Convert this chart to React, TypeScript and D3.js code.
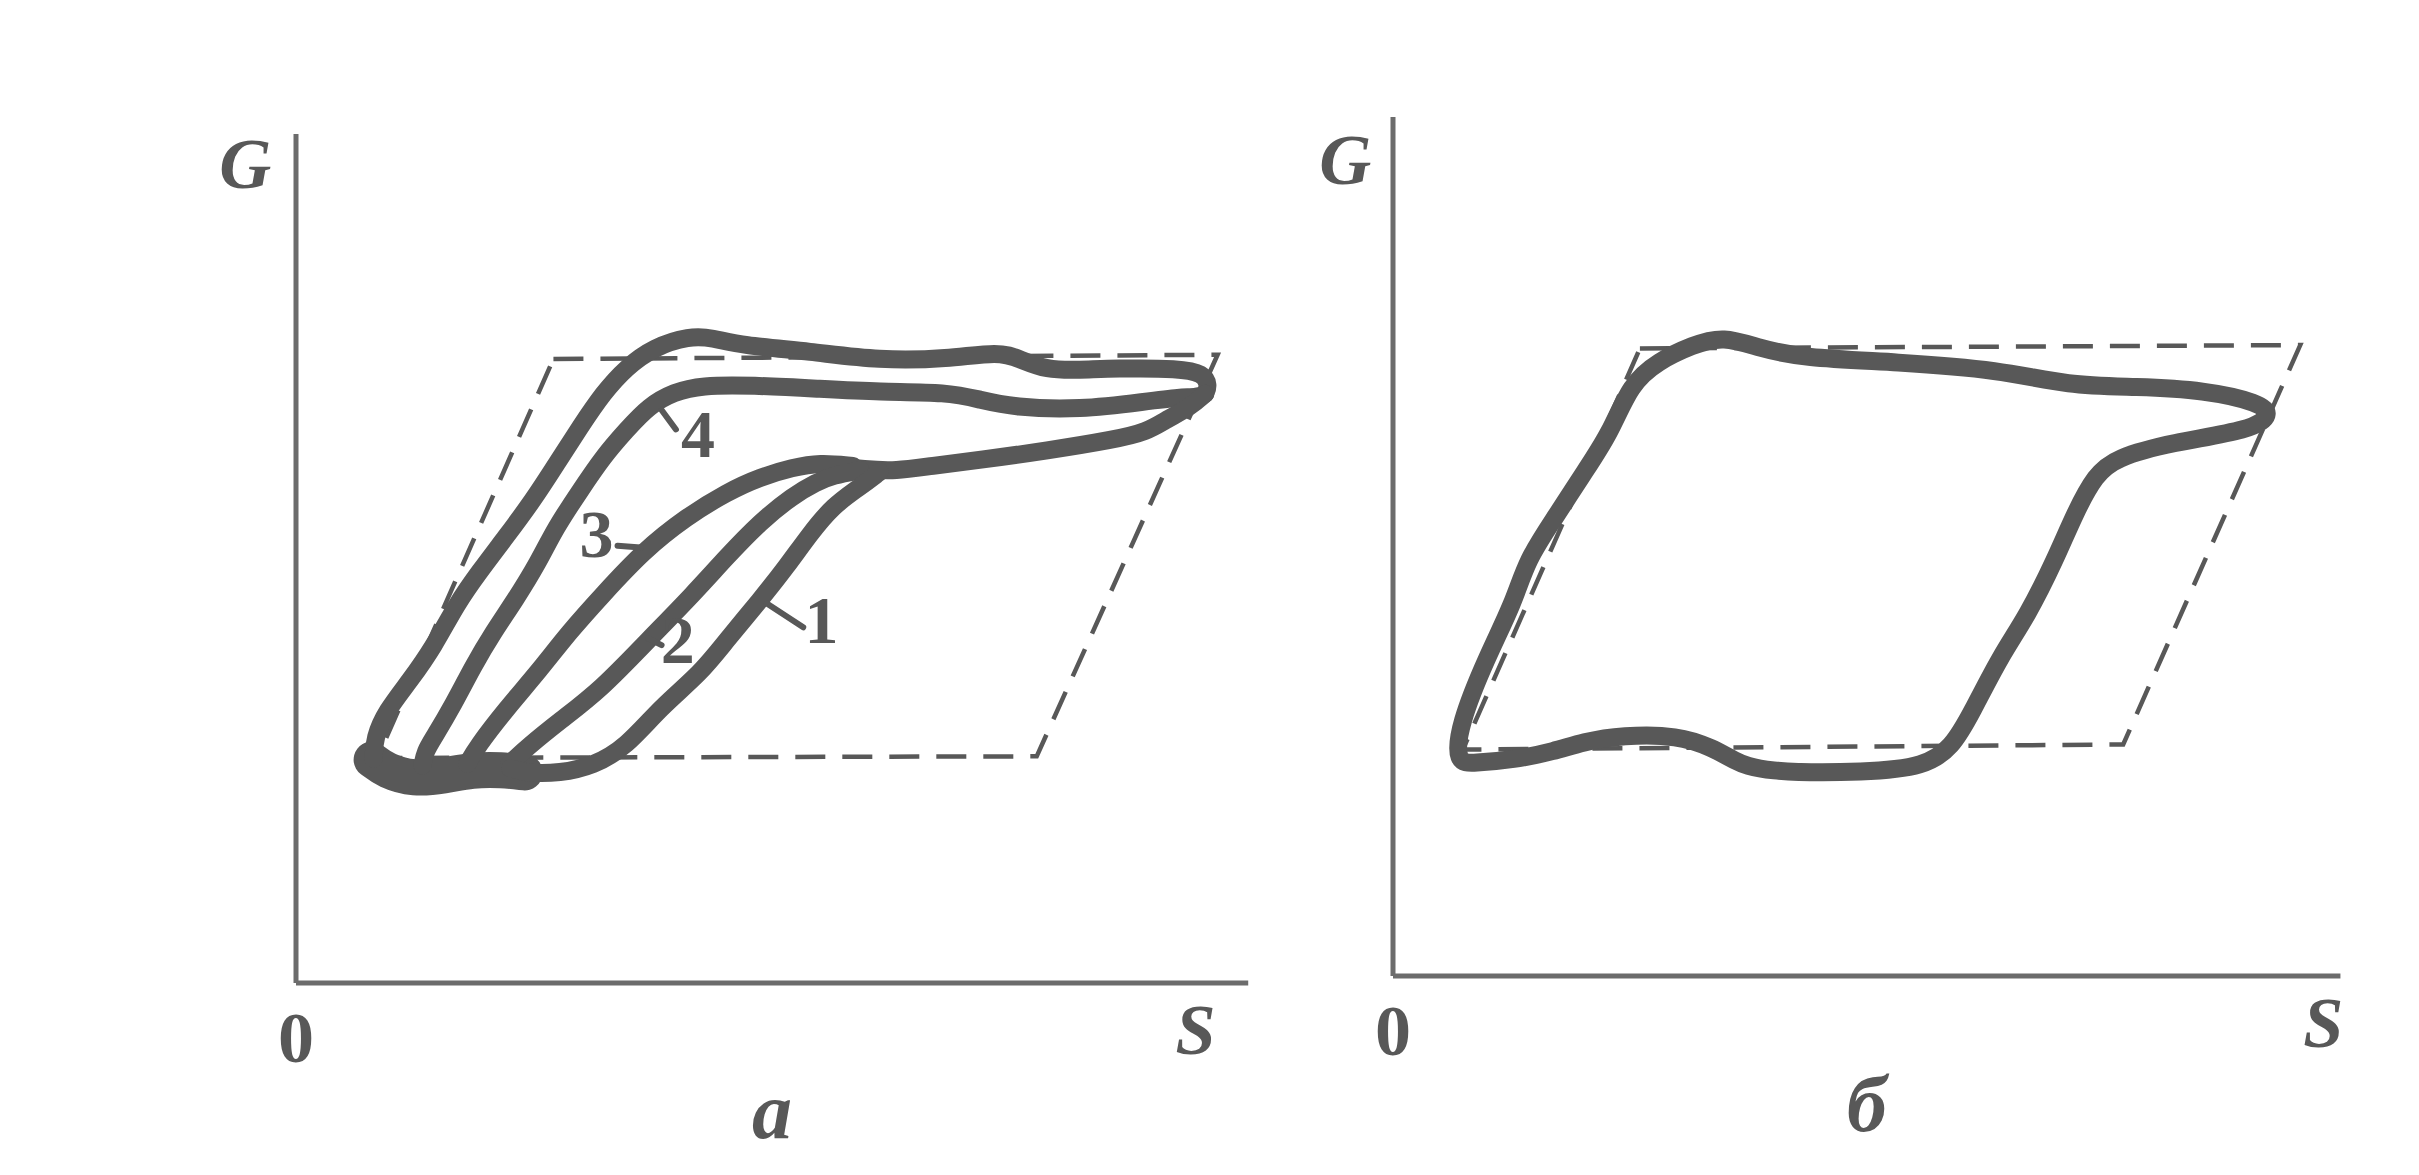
import React from "react";
import * as d3 from "d3";

type P = [number, number];

// ---------- Panel a (S, G in relative units 0..100) ----------
const aOuter: P[] = [
  [8.1, 26.4], [8.2, 28.9], [9.4, 32.0], [11.9, 35.6], [14.4, 39.6], [16.8, 44.7],
  [19.2, 48.5], [21.9, 52.5], [24.8, 56.9], [27.3, 61.3], [29.7, 65.5], [32.1, 69.5],
  [34.5, 72.5], [37.4, 74.9], [41.1, 76.2], [43.5, 76.0], [46.5, 75.1], [53.7, 74.4],
  [61.0, 73.3], [68.1, 73.5], [73.5, 74.4], [75.6, 73.5], [78.4, 72.2], [81.9, 72.2],
  [85.5, 72.4], [92.4, 72.4], [94.8, 71.8], [95.4, 70.4], [95.0, 69.4],
];
const aCurve4: P[] = [
  [95.0, 69.4], [94.2, 69.0], [92.4, 69.0], [88.9, 68.5], [81.9, 67.5], [75.0, 67.8],
  [71.5, 68.7], [68.1, 69.6], [61.0, 69.6], [54.5, 70.0], [47.7, 70.4], [42.3, 70.4],
  [39.5, 69.6], [36.9, 68.0], [34.5, 65.1], [32.1, 62.0], [29.7, 58.0], [27.1, 53.6],
  [25.3, 49.5], [22.9, 45.1], [20.6, 41.3], [18.5, 37.3], [16.5, 32.9], [14.4, 28.9],
  [13.5, 27.3], [13.2, 25.6],
];
const aLowerCommon: P[] = [
  [95.0, 69.4], [93.4, 67.8], [91.0, 66.4], [88.9, 64.9], [85.5, 64.0], [78.5, 62.7],
  [71.5, 61.6], [66.3, 60.9], [62.7, 60.3], [59.4, 60.5], [56.0, 61.0],
];
const aCurve3: P[] = [
  [58.2, 60.9], [54.7, 61.3], [51.9, 60.7], [48.5, 59.6], [45.0, 57.8], [40.8, 54.9],
  [36.3, 50.9], [32.1, 45.8], [28.5, 41.3], [25.5, 36.9], [21.9, 32.2], [18.9, 27.8],
  [17.9, 25.8],
];
const aCurve2: P[] = [
  [59.0, 60.4], [56.1, 59.8], [54.4, 59.0], [51.9, 57.4], [48.5, 54.3], [45.0, 50.2],
  [41.5, 45.8], [36.8, 40.4], [31.8, 34.5], [27.6, 30.9], [24.2, 27.8], [22.3, 25.8],
];
const aCurve1: P[] = [
  [61.0, 60.2], [58.9, 58.4], [56.1, 56.2], [53.7, 52.9], [51.3, 49.1], [48.5, 45.1],
  [45.0, 40.4], [42.3, 36.5], [38.1, 32.5], [34.5, 27.8], [31.1, 25.6], [27.6, 24.7],
  [24.0, 24.7], [22.4, 25.3],
];
const aBottom: P[] = [
  [7.9, 26.3], [9.4, 25.0], [12.3, 24.0], [15.5, 24.4], [18.4, 25.1], [21.5, 25.1], [23.9, 24.8],
];
const aDashed: P[] = [[26.9, 73.5], [96.3, 74.0], [77.4, 26.7], [8.5, 26.5]];
const aLabels = ["1", "2", "3", "4"];
const aLabelPos: P[] = [[54.9, 42.7], [39.9, 40.4], [31.4, 52.9], [42.0, 64.7]];
const aLeaders: [P, P][] = [
  [[49.2, 44.7], [53.0, 41.9]],
  [[36.8, 40.6], [38.2, 39.8]],
  [[33.6, 51.5], [36.0, 51.3]],
  [[38.2, 67.5], [39.7, 65.2]],
];

// ---------- Panel б ----------
const bLoop: P[] = [
  [6.6, 25.1], [6.9, 29.6], [9.8, 37.6], [12.6, 44.0], [14.0, 49.1], [16.9, 54.0],
  [19.8, 59.1], [22.7, 64.0], [24.8, 69.8], [27.7, 72.5], [31.3, 74.4], [34.5, 75.5],
  [38.4, 74.0], [42.7, 72.9], [52.7, 72.4], [63.4, 71.5], [70.6, 69.6], [77.7, 69.5],
  [84.8, 69.1], [90.6, 67.6], [91.8, 66.2], [89.8, 64.4], [81.3, 62.9], [75.5, 61.1],
  [73.4, 59.1], [71.3, 54.7], [69.2, 49.1], [66.3, 42.5], [63.4, 37.6], [60.5, 31.1],
  [58.4, 26.9], [55.5, 24.7], [49.8, 24.0], [38.4, 24.0], [35.5, 25.5], [33.4, 26.9],
  [29.8, 28.4], [24.0, 28.4], [19.8, 27.6], [16.9, 26.5], [12.6, 25.5], [8.4, 25.1],
];
const bDashed: P[] = [[25.8, 74.0], [94.8, 74.4], [76.3, 27.3], [7.3, 26.7]];

const INK = "#585858";
const SERIF = "'Liberation Serif', 'DejaVu Serif', serif";

function Panel(props: {
  x: d3.ScaleLinear<number, number>;
  y: d3.ScaleLinear<number, number>;
  axisTop: number;
  axisRight: number;
  dashed: P[];
  curves: P[][];
  closed?: P[];
  blob?: P[];
  title: string;
  gPos: P;
  sPos: P;
  children?: React.ReactNode;
}) {
  const { x, y } = props;
  const line = d3.line<P>().x((d) => x(d[0])).y((d) => y(d[1])).curve(d3.curveBasis);
  const closedLine = d3.line<P>().x((d) => x(d[0])).y((d) => y(d[1])).curve(d3.curveBasisClosed);
  const poly = d3.line<P>().x((d) => x(d[0])).y((d) => y(d[1]));
  return (
    <g>
      <line x1={x(0)} y1={y(0)} x2={x(0)} y2={y(props.axisTop)} stroke="#6c6c6c" strokeWidth={5} />
      <line x1={x(0)} y1={y(0)} x2={x(props.axisRight)} y2={y(0)} stroke="#6c6c6c" strokeWidth={5} />
      <path d={poly([...props.dashed, props.dashed[0]]) || ""} fill="none" stroke={INK}
        strokeWidth={4.5} strokeDasharray="30 17" />
      {props.blob && (
        <path d={line(props.blob) || ""} fill="none" stroke={INK} strokeWidth={36}
          strokeLinecap="round" strokeLinejoin="round" />
      )}
      {props.curves.map((c, i) => (
        <path key={i} d={line(c) || ""} fill="none" stroke={INK} strokeWidth={18}
          strokeLinecap="round" strokeLinejoin="round" />
      ))}
      {props.closed && (
        <path d={closedLine(props.closed) || ""} fill="none" stroke={INK} strokeWidth={18}
          strokeLinejoin="round" />
      )}
      {props.children}
      <text x={x(props.gPos[0])} y={y(props.gPos[1])} fontFamily={SERIF} fontSize={72}
        fontStyle="italic" fontWeight="bold" fill={INK} textAnchor="middle" dominantBaseline="central">G</text>
      <text x={x(0)} y={y(0) + 55} fontFamily={SERIF} fontSize={72} fontWeight="bold"
        fill={INK} textAnchor="middle" dominantBaseline="central">0</text>
      <text x={x(props.sPos[0])} y={y(props.sPos[1])} fontFamily={SERIF} fontSize={72}
        fontStyle="italic" fontWeight="bold" fill={INK} textAnchor="middle" dominantBaseline="central">S</text>
      <text x={(x(0) + x(props.axisRight)) / 2} y={y(0) + 128} fontFamily={SERIF} fontSize={80}
        fontStyle="italic" fontWeight="bold" fill={INK} textAnchor="middle" dominantBaseline="central">{props.title}</text>
    </g>
  );
}

export default function App() {
  const xA = d3.scaleLinear().domain([0, 100]).range([296, 1253]);
  const yA = d3.scaleLinear().domain([0, 100]).range([983, 134]);
  const xB = d3.scaleLinear().domain([0, 100]).range([1393, 2350]);
  const yB = d3.scaleLinear().domain([0, 100]).range([976, 128]);

  return (
    <svg width={2419} height={1175} viewBox="0 0 2419 1175"
      style={{ position: "absolute", left: 0, top: 0, background: "#fff" }}>
      <rect width={2419} height={1175} fill="#fff" />
      <Panel x={xA} y={yA} axisTop={100} axisRight={99.5} dashed={aDashed}
        curves={[aOuter, aCurve4, aLowerCommon, aCurve3, aCurve2, aCurve1]} blob={aBottom}
        title="а" gPos={[-5.3, 96.5]} sPos={[94.0, -5.5]}>
        {aLeaders.map((l, i) => (
          <line key={i} x1={xA(l[0][0])} y1={yA(l[0][1])} x2={xA(l[1][0])} y2={yA(l[1][1])}
            stroke={INK} strokeWidth={6} strokeLinecap="round" />
        ))}
        {aLabels.map((t, i) => (
          <text key={t} x={xA(aLabelPos[i][0])} y={yA(aLabelPos[i][1])} fontFamily={SERIF}
            fontSize={68} fontWeight="bold" fill={INK} textAnchor="middle" dominantBaseline="central">{t}</text>
        ))}
      </Panel>
      <Panel x={xB} y={yB} axisTop={101.3} axisRight={99} dashed={bDashed}
        curves={[]} closed={bLoop}
        title="б" gPos={[-5.0, 96.2]} sPos={[97.2, -5.5]} />
    </svg>
  );
}
